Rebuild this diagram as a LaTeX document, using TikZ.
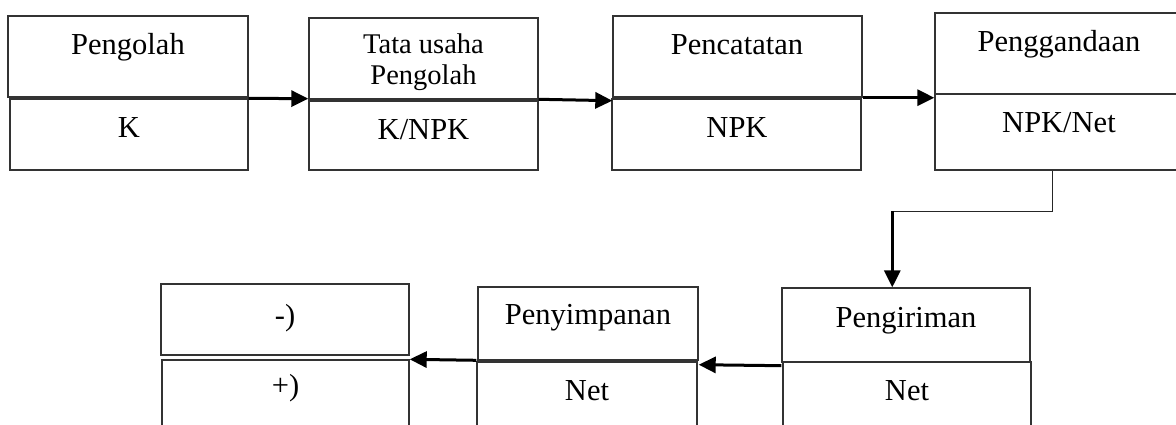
\documentclass[tikz,border=0pt]{standalone}
\usepackage{fontspec}
\setmainfont{Liberation Serif}
\usetikzlibrary{arrows.meta,calc}
\begin{document}
\begin{tikzpicture}[x=1pt,y=-1pt,
  box/.style={draw=black!80,line width=1.4pt,rectangle,inner sep=0pt},
  txt/.style={anchor=base,inner sep=0pt,font=\fontsize{30.5}{33}\selectfont},
  txts/.style={anchor=base,inner sep=0pt,font=\fontsize{28.5}{31}\selectfont},
  flow/.style={line width=3pt,-{Triangle[length=17pt,width=16pt]}},
  thin/.style={line width=1.3pt,draw=black!85}]
\useasboundingbox (0,0) rectangle (1176,425);
\clip (0,0) rectangle (1176,425);
% boxes
\node[box,minimum width=240pt,minimum height=81pt] (pengolah) at (128,56.5) {};
\node[box,minimum width=238pt,minimum height=71pt] (k) at (129,134.5) {};
\node[box,minimum width=229pt,minimum height=81pt] (tata) at (423.5,58.5) {};
\node[box,minimum width=229pt,minimum height=69pt] (knpk) at (423.5,135.5) {};
\node[box,minimum width=249pt,minimum height=81pt] (pencatatan) at (737.5,56.5) {};
\node[box,minimum width=249pt,minimum height=71pt] (npk) at (736.5,134.5) {};
\node[box,minimum width=251pt,minimum height=81pt] (penggandaan) at (1060.5,53.5) {};
\node[box,minimum width=251pt,minimum height=76pt] (npknet) at (1060.5,132) {};
\node[box,minimum width=248pt,minimum height=74pt] (pengiriman) at (906,325) {};
\node[box,minimum width=248pt,minimum height=73pt] (net2) at (907,398.5) {};
\node[box,minimum width=220pt,minimum height=73pt] (penyimpanan) at (588,323.5) {};
\node[box,minimum width=220pt,minimum height=73pt] (net1) at (587,398.5) {};
\node[box,minimum width=248pt,minimum height=71pt] (minus) at (285,319.5) {};
\node[box,minimum width=247pt,minimum height=75pt] (plus) at (285.5,397.5) {};
% texts
\node[txt] (t1) at (128,55) {Pengolah};
\node[txt] (t2) at (129,138) {K};
\node[txts] (t3) at (423.5,54) {Tata usaha};
\node[txts] (t4) at (423.5,85) {Pengolah};
\node[txt] (t5) at (423.5,140) {K/NPK};
\node[txt] (t6) at (737,55) {Pencatatan};
\node[txt] (t7) at (737,138) {NPK};
\node[txt] (t8) at (1059,52) {Penggandaan};
\node[txt] (t9) at (1059,133) {NPK/Net};
\node[txt] (t10) at (906,327) {Pengiriman};
\node[txt] (t11) at (907,400) {Net};
\node[txt] (t12) at (588,324) {Penyimpanan};
\node[txt] (t13) at (587,400) {Net};
\node[txt] (t14) at (285,325) {-)};
\node[txt] (t15) at (285.5,395) {+)};
% connectors
\draw[flow] ($(k.north east)+(0,0)$) -- ($(tata.south west)+(0,-1)$);
\draw[flow] ($(knpk.north east)+(0,-1)$) -- ($(pencatatan.south west)+(0,3)$);
\draw[flow] (pencatatan.south east) -- ($(penggandaan.south west)+(0,3)$);
\coordinate (c1) at ($(npknet.south west)+(118,0)$);
\coordinate (c2) at ($(pengiriman.north west)+(111,-76)$);
\draw[thin] (c1) -- (c1 |- c2) -- (c2);
\draw[flow] (c2) -- ($(pengiriman.north west)+(111,0)$);
\draw[flow] ($(pengiriman.south west)+(0,3)$) -- ($(penyimpanan.south east)+(0,4)$);
\draw[flow] ($(net1.north west)+(0,-1)$) -- ($(plus.north east)+(0,0)$);
\end{tikzpicture}
\end{document}
